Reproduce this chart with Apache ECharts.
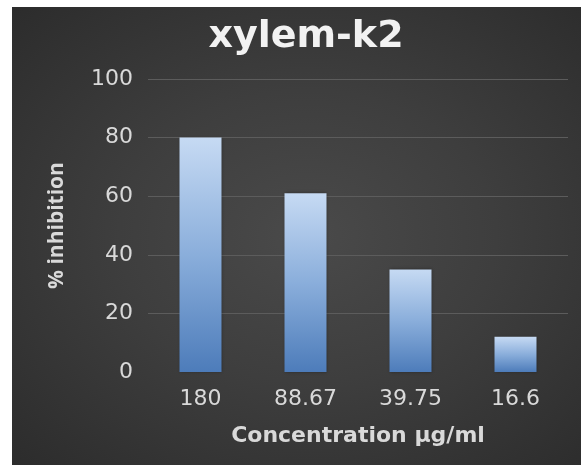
<!DOCTYPE html>
<html>
<head>
<meta charset="utf-8">
<script src="https://cdn.jsdelivr.net/npm/echarts@6/dist/echarts.min.js"></script>
<style>
  html, body { margin: 0; padding: 0; background: #ffffff; }
  #wrap { position: relative; width: 581px; height: 465px; overflow: hidden; }
  #bg {
    position: absolute; left: 12px; top: 7px; right: 0; bottom: 0;
    background: radial-gradient(ellipse at 52% 50%, #4a4a4a 0%, #3e3e3e 45%, #2c2c2c 100%);
  }
  #chart { position: absolute; left: 0; top: 0; width: 581px; height: 465px; }
</style>
</head>
<body>
<div id="wrap">
  <div id="bg"></div>
  <div id="chart"></div>
</div>
<script>
// Concentration levels (µg/ml) and the measured % inhibition at each
const categories = ['180', '88.67', '39.75', '16.6'];
const inhibition = [80, 61, 35, 12];
const yTicks = { min: 0, max: 100, interval: 20 };

const chart = echarts.init(document.getElementById('chart'), null, { renderer: 'canvas' });

const barFill = new echarts.graphic.LinearGradient(0, 0, 0, 1, [
  { offset: 0, color: '#c6daf3' },
  { offset: 0.5, color: '#8aaedb' },
  { offset: 1, color: '#4d7cba' }
]);

chart.setOption({
  backgroundColor: 'transparent',
  animation: false,
  title: {
    text: 'xylem-k2',
    left: 301,
    top: 13,
    textAlign: 'center',
    textStyle: {
      fontFamily: 'DejaVu Sans',
      fontWeight: 'bold',
      fontSize: 38,
      color: '#f2f2f2'
    }
  },
  grid: { left: 148, right: 13, top: 79, bottom: 93, containLabel: false },
  xAxis: {
    type: 'category',
    data: categories,
    name: 'Concentration µg/ml',
    nameLocation: 'middle',
    nameGap: 53,
    nameTextStyle: {
      fontFamily: 'DejaVu Sans',
      fontWeight: 'bold',
      fontSize: 22,
      color: '#d9d9d9'
    },
    axisLine: { show: false },
    axisTick: { show: false },
    axisLabel: {
      margin: 16,
      fontFamily: 'DejaVu Sans',
      fontSize: 22,
      color: '#d9d9d9'
    }
  },
  yAxis: {
    type: 'value',
    min: yTicks.min,
    max: yTicks.max,
    interval: yTicks.interval,
    name: '% inhibition',
    nameLocation: 'middle',
    nameGap: 80,
    nameRotate: 90,
    nameTextStyle: {
      fontFamily: 'Open Sans',
      fontWeight: 'bold',
      fontSize: 21,
      color: '#d9d9d9'
    },
    axisLine: { show: false },
    axisTick: { show: false },
    axisLabel: {
      margin: 15,
      fontFamily: 'DejaVu Sans',
      fontSize: 22,
      color: '#d9d9d9'
    },
    splitLine: {
      show: true,
      showMinLine: false,
      lineStyle: { color: '#5c5c5c', width: 1 }
    }
  },
  series: [{
    type: 'bar',
    data: inhibition,
    barWidth: '40%',
    itemStyle: {
      color: barFill,
      shadowColor: 'rgba(0,0,0,0.35)',
      shadowBlur: 3
    }
  }]
});
</script>
</body>
</html>
